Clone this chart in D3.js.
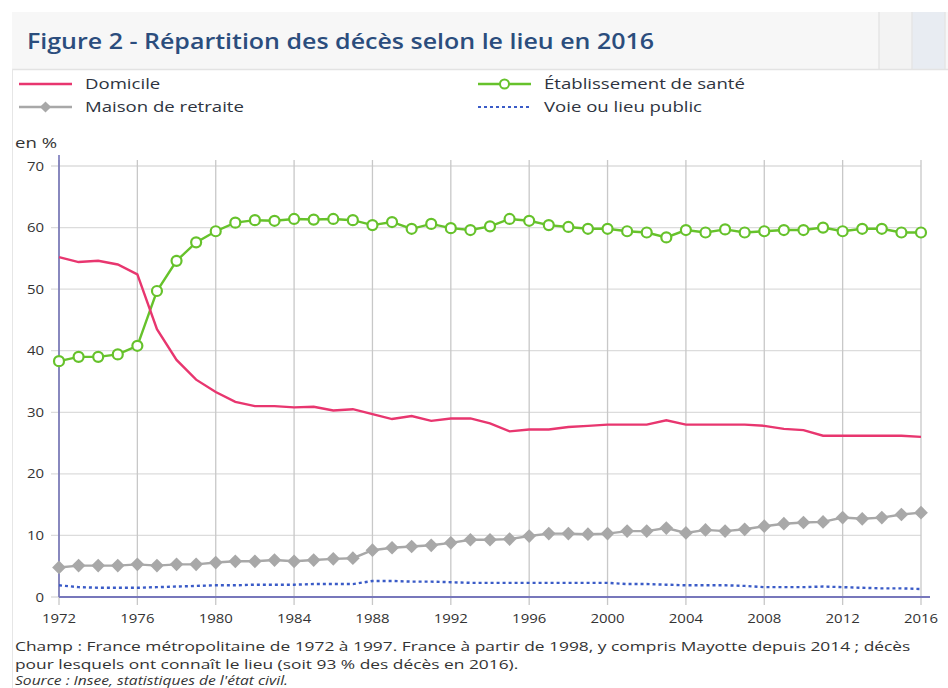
<!DOCTYPE html>
<html>
<head>
<meta charset="utf-8">
<script src="https://cdn.jsdelivr.net/npm/d3@7"></script>
<style>
  body { margin: 0; background: #fff; }
  svg { display: block; font-family: "Open Sans", sans-serif; }
</style>
</head>
<body>
<script>
const years = d3.range(1972, 2017);

const domicile = [55.2, 54.4, 54.6, 54.0, 52.4, 43.5, 38.5, 35.3, 33.3, 31.7, 31.0, 31.0, 30.8, 30.9, 30.3, 30.5, 29.7, 28.9, 29.4, 28.6, 29.0, 29.0, 28.2, 26.9, 27.2, 27.2, 27.6, 27.8, 28.0, 28.0, 28.0, 28.7, 28.0, 28.0, 28.0, 28.0, 27.8, 27.3, 27.1, 26.2, 26.2, 26.2, 26.2, 26.2, 26.0];
const etablissement = [38.3, 39.0, 39.0, 39.4, 40.8, 49.7, 54.6, 57.6, 59.4, 60.8, 61.2, 61.1, 61.4, 61.3, 61.4, 61.2, 60.4, 60.9, 59.8, 60.6, 59.9, 59.6, 60.2, 61.4, 61.1, 60.4, 60.1, 59.8, 59.8, 59.4, 59.2, 58.4, 59.6, 59.2, 59.7, 59.2, 59.4, 59.6, 59.6, 60.0, 59.4, 59.8, 59.8, 59.2, 59.2];
const maison = [4.8, 5.1, 5.1, 5.1, 5.3, 5.1, 5.3, 5.3, 5.6, 5.8, 5.8, 6.0, 5.8, 6.0, 6.2, 6.3, 7.6, 8.0, 8.2, 8.4, 8.8, 9.3, 9.3, 9.4, 9.9, 10.3, 10.3, 10.2, 10.3, 10.7, 10.7, 11.2, 10.4, 10.9, 10.7, 11.0, 11.5, 11.9, 12.1, 12.2, 12.9, 12.7, 12.9, 13.4, 13.7];
const voie = [1.9, 1.6, 1.5, 1.5, 1.5, 1.6, 1.7, 1.8, 1.9, 1.9, 2.0, 2.0, 2.0, 2.1, 2.1, 2.1, 2.6, 2.6, 2.5, 2.5, 2.4, 2.3, 2.3, 2.3, 2.3, 2.3, 2.3, 2.3, 2.3, 2.1, 2.1, 2.0, 1.9, 1.9, 1.9, 1.8, 1.6, 1.6, 1.6, 1.7, 1.6, 1.5, 1.4, 1.4, 1.3];

const xTicks = d3.range(1972, 2017, 4);
const yTicks = [0, 10, 20, 30, 40, 50, 60, 70];

const series = [
  { name: "Domicile", values: domicile, color: "#e8366f", marker: null, dash: null },
  { name: "Établissement de santé", values: etablissement, color: "#66c22b", marker: "circle", dash: null },
  { name: "Maison de retraite", values: maison, color: "#a8a8a8", marker: "diamond", dash: null },
  { name: "Voie ou lieu public", values: voie, color: "#3a5bc7", marker: null, dash: "3,3" }
];

const width = 948, height = 688;
const margin = { top: 166, right: 27, bottom: 91, left: 59 };

const svg = d3.select("body").append("svg")
    .attr("width", width)
    .attr("height", height);

// the source text is rendered wider than Open Sans, so stretch it horizontally
function label(parent, x0, y0, txt, sx) {
  return parent.append("text")
      .attr("transform", `translate(${x0},${y0}) scale(${sx},1)`)
      .text(txt);
}

// header band
svg.append("rect").attr("x", 12).attr("y", 12).attr("width", 936).attr("height", 57).attr("fill", "#f7f7f7");
svg.append("rect").attr("x", 879).attr("y", 12).attr("width", 33).attr("height", 57).attr("fill", "#f3f3f3");
svg.append("rect").attr("x", 912).attr("y", 12).attr("width", 33).attr("height", 57).attr("fill", "#e8ecf2");
[879, 912, 945].forEach(x => {
  svg.append("line").attr("x1", x).attr("x2", x).attr("y1", 12).attr("y2", 69)
      .attr("stroke", "#e6e6e6").attr("stroke-width", 1.5);
});
svg.append("line").attr("x1", 12).attr("x2", 948).attr("y1", 69.5).attr("y2", 69.5)
    .attr("stroke", "#e3e3e3").attr("stroke-width", 1.5);
svg.append("line").attr("x1", 12.5).attr("x2", 12.5).attr("y1", 69).attr("y2", height)
    .attr("stroke", "#e6e6e6");

label(svg, 27, 49, "Figure 2 - Répartition des décès selon le lieu en 2016", 1.19)
    .attr("fill", "#2b4d7d")
    .attr("font-size", 21)
    .attr("font-weight", 600);

const x = d3.scaleLinear()
    .domain([1972, 2016])
    .range([margin.left, width - margin.right]);

const y = d3.scaleLinear()
    .domain([0, 70])
    .range([height - margin.bottom, margin.top]);

// horizontal grid
svg.append("g")
  .selectAll("line")
  .data(yTicks)
  .join("line")
    .attr("x1", margin.left - 8)
    .attr("x2", x(2016))
    .attr("y1", d => y(d))
    .attr("y2", d => y(d))
    .attr("stroke", "#dcdcdc")
    .attr("stroke-width", 1.3);

// vertical grid
svg.append("g")
  .selectAll("line")
  .data(xTicks)
  .join("line")
    .attr("x1", d => x(d))
    .attr("x2", d => x(d))
    .attr("y1", y(70) - 6)
    .attr("y2", y(0) + 8)
    .attr("stroke", "#c8c8c8")
    .attr("stroke-width", 1.3);

// y labels
const yLab = svg.append("g")
    .attr("font-size", 13)
    .attr("fill", "#333")
    .attr("text-anchor", "end");
yTicks.forEach(d => {
  label(yLab, 44, y(d) + 4.5, d, 1.15);
});

// x labels
const xLab = svg.append("g")
    .attr("font-size", 13)
    .attr("fill", "#333")
    .attr("text-anchor", "middle");
xTicks.forEach(d => {
  label(xLab, x(d), y(0) + 26, d, 1.15);
});

label(svg, 15, 148, "en %", 1.24)
    .attr("font-size", 15)
    .attr("fill", "#333");

// axes lines
svg.append("line")
    .attr("x1", x(1972)).attr("x2", x(1972))
    .attr("y1", y(70) - 11).attr("y2", y(0))
    .attr("stroke", "#6d6db5").attr("stroke-width", 1.5);
svg.append("line")
    .attr("x1", x(1972)).attr("x2", x(2016) + 9)
    .attr("y1", y(0)).attr("y2", y(0))
    .attr("stroke", "#7777bb").attr("stroke-width", 2);

const line = d3.line()
    .x((d, i) => x(years[i]))
    .y(d => y(d));

const diamond = d3.symbol().type(d3.symbolDiamond2).size(120);

series.slice().reverse().forEach(s => {
  svg.append("path")
      .datum(s.values)
      .attr("d", line)
      .attr("fill", "none")
      .attr("stroke", s.color)
      .attr("stroke-width", 2.4)
      .attr("stroke-dasharray", s.dash);

  if (s.marker === "circle") {
    svg.append("g")
      .selectAll("circle")
      .data(s.values)
      .join("circle")
        .attr("cx", (d, i) => x(years[i]))
        .attr("cy", d => y(d))
        .attr("r", 5)
        .attr("fill", "#fff")
        .attr("stroke", s.color)
        .attr("stroke-width", 2.2);
  } else if (s.marker === "diamond") {
    svg.append("g")
      .selectAll("path")
      .data(s.values)
      .join("path")
        .attr("transform", (d, i) => `translate(${x(years[i])},${y(d)})`)
        .attr("d", diamond)
        .attr("fill", s.color);
  }
});

// legend
const legendPos = [[19, 84], [478, 84], [19, 107], [478, 107]];
const legend = svg.append("g")
  .selectAll("g")
  .data(series)
  .join("g")
    .attr("transform", (d, i) => `translate(${legendPos[i][0]},${legendPos[i][1]})`);

legend.append("line")
    .attr("x1", 0).attr("x2", 53)
    .attr("stroke", d => d.color)
    .attr("stroke-width", d => d.dash ? 2.2 : 2.4)
    .attr("stroke-dasharray", d => d.dash);

legend.filter(d => d.marker === "circle").append("circle")
    .attr("cx", 26.5).attr("r", 4.5)
    .attr("fill", "#fff")
    .attr("stroke", d => d.color)
    .attr("stroke-width", 2);

legend.filter(d => d.marker === "diamond").append("path")
    .attr("transform", "translate(26.5,0)")
    .attr("d", d3.symbol().type(d3.symbolDiamond2).size(80))
    .attr("fill", d => d.color);

legend.each(function(d) {
  label(d3.select(this), 66, 5, d.name, 1.24)
      .attr("font-size", 15)
      .attr("fill", "#2e3440");
});

// notes
const notes = svg.append("g").attr("font-size", 13).attr("fill", "#333");
label(notes, 15, 651, "Champ : France métropolitaine de 1972 à 1997. France à partir de 1998, y compris Mayotte depuis 2014 ; décès", 1.335);
label(notes, 15, 669, "pour lesquels ont connaît le lieu (soit 93 % des décès en 2016).", 1.335);
label(notes, 15, 685, "Source : Insee, statistiques de l'état civil.", 1.30)
    .attr("font-style", "italic")
    .attr("font-size", 12);
</script>
</body>
</html>
